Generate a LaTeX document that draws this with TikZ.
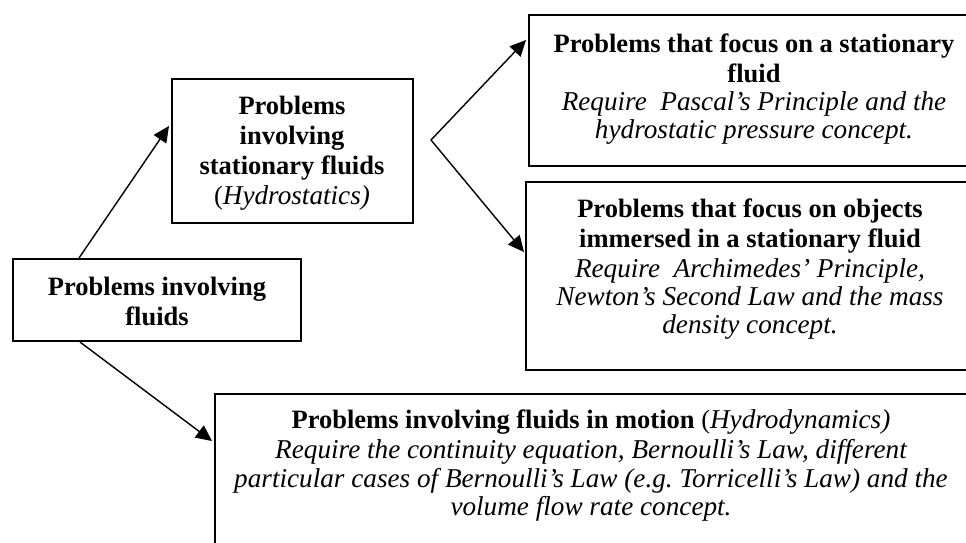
\documentclass[tikz,border=0pt]{standalone}
\usepackage{fontspec}
\setmainfont{Liberation Serif}
\usetikzlibrary{arrows.meta}
\newcommand\itx[1]{{\fontsize{27.2}{28}\selectfont\itshape #1}}
\begin{document}
\begin{tikzpicture}[x=1pt,y=-1pt,
  box/.style={draw=black, line width=2pt, inner sep=0pt, rectangle},
  txt/.style={align=center, inner sep=0pt, font=\fontsize{26.5}{28}\selectfont},
  arr/.style={line width=1.4pt, -{Triangle[length=16pt,width=15pt]}},
  dblarr/.style={line width=1.4pt, {Triangle[length=16pt,width=15pt]}-{Triangle[length=16pt,width=15pt]}}]
\useasboundingbox (0,0) rectangle (966,542);
\clip (0,0) rectangle (966,542);
% boxes
\node[box, minimum width=288pt, minimum height=82pt] (a) at (157,300) {};
\node[box, minimum width=241pt, minimum height=144pt] (b) at (292.5,151) {};
\node[box, minimum width=450pt, minimum height=151pt] (c) at (754,90.5) {};
\node[box, minimum width=448pt, minimum height=188pt] (d) at (750,276) {};
\node[box, minimum width=760pt, minimum height=206pt] (e) at (595,497) {};
% texts
\node[txt] (ta) at (157,301) {\textbf{Problems involving}\\[2pt]\textbf{fluids}};
\node[txt] (tb) at (292,153) {\textbf{Problems}\\[2pt]\textbf{involving}\\[2pt]\textbf{stationary fluids}\\[2pt](\itx{Hydrostatics)}};
\node[txt] (tc) at (754,89) {\textbf{Problems that focus on a stationary}\\[2pt]\textbf{fluid}\\\itx{Require~ Pascal’s Principle and the}\\\itx{hydrostatic pressure concept.}};
\node[txt] (td) at (750,269) {\textbf{Problems that focus on objects}\\[2pt]\textbf{immersed in a stationary fluid}\\[2pt]\itx{Require~ Archimedes’ Principle,}\\\itx{Newton’s Second Law and the mass}\\\itx{density concept.}};
\node[txt] (te) at (591,465) {\textbf{Problems involving fluids in motion} (\itx{Hydrodynamics)}\\[2pt]\itx{Require the continuity equation, Bernoulli’s Law, different}\\[1pt]\itx{particular cases of Bernoulli’s Law (e.g.\ Torricelli’s Law) and the}\\\itx{volume flow rate concept.}};
% connectors
\coordinate (br) at (431,140);
\draw[arr] ([xshift=67pt]a.north west) -- ([xshift=-2pt,yshift=-48pt]b.north west);
\draw[dblarr] ([xshift=-2pt,yshift=-26pt]c.north west) -- (br) -- ([xshift=-1pt,yshift=-71pt]d.north west);
\draw[arr] ([xshift=68pt]a.south west) -- ([xshift=-2pt,yshift=-48pt]e.north west);
\end{tikzpicture}
\end{document}
